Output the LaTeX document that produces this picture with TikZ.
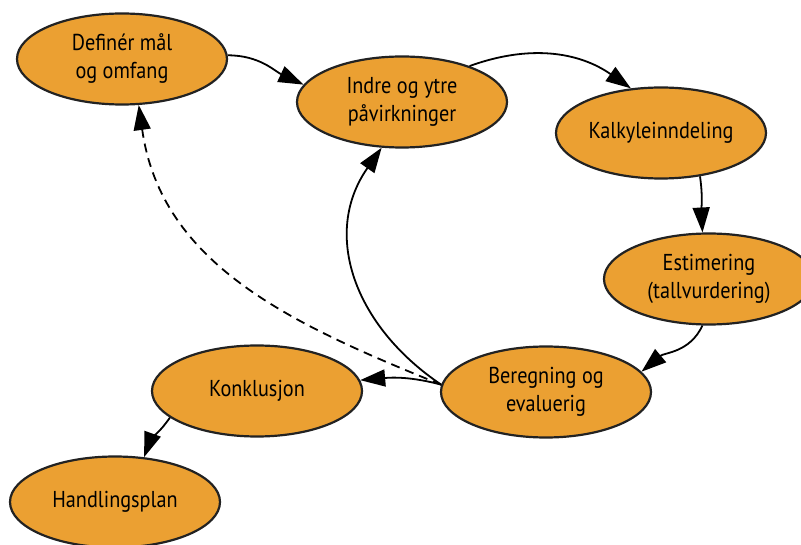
\documentclass[tikz,border=0pt]{standalone}
\usepackage{fontspec}
\setmainfont[FakeStretch=0.88]{PT Sans}
\usetikzlibrary{shapes.geometric,arrows.meta}
\definecolor{boxfill}{RGB}{235,160,50}
\definecolor{boxline}{RGB}{34,34,34}
\tikzset{
  stage/.style={ellipse, draw=boxline, line width=2.2pt, fill=boxfill,
    minimum width=210pt, minimum height=91pt, inner sep=0pt, align=center,
    font=\fontsize{23}{28}\selectfont},
  flow/.style={line width=1.8pt, -{Triangle[length=25pt,width=17pt]}},
  back/.style={flow, dash pattern=on 9pt off 6pt}
}
\begin{document}
\begin{tikzpicture}[x=1pt,y=1pt]
\useasboundingbox (0,0) rectangle (801,544);
\node[stage] (d) at (122,485) {Definér mål\\og omfang};
\node[stage] (i) at (402,442) {Indre og ytre\\påvirkninger};
\node[stage] (k) at (661,411) {Kalkyleinndeling};
\node[stage] (e) at (709,265) {Estimering\\(tallvurdering)};
\node[stage] (b) at (546,152) {Beregning og\\evaluerig};
\node[stage] (c) at (257,153) {Konklusjon};
\node[stage] (h) at (115,42) {Handlingsplan};
\coordinate (bs) at (b.176);
\draw[flow] (d.2) to[out=0,in=155] (i.170);
\draw[flow] (i.28) to[out=20,in=145] (k.124);
\draw[flow] (k.-48) to[out=-82,in=93] (e.98);
\draw[flow] (e.-98) to[out=-115,in=40] (b.12);
\draw[flow] (bs) to[out=165,in=5] (c.6);
\draw[flow] (bs) to[out=146,in=-125,looseness=1.1] (i.-114);
\draw[back] (bs) to[out=158,in=-82] (d.-70);
\draw[flow] (c.-163) to[out=-125,in=70] (h.57);
\end{tikzpicture}
\end{document}
